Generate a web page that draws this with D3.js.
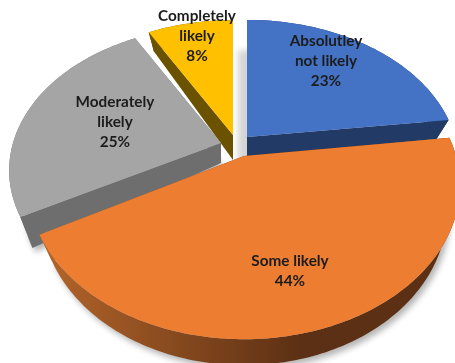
<!DOCTYPE html>
<html>
<head>
<meta charset="utf-8">
<script src="https://cdn.jsdelivr.net/npm/d3@7"></script>
<style>
  html, body { margin: 0; padding: 0; background: #fff; }
  text { font-family: Lato, "Open Sans", sans-serif; font-weight: 700; font-size: 15.3px; fill: #1c1c1c; }
</style>
</head>
<body>
<div id="chart"></div>
<script>
const categories = ['Absolutley not likely', 'Some likely', 'Moderately likely', 'Completely likely'];
const shares = [23, 44, 25, 8];
const labelLines = [['Absolutley', 'not likely'], ['Some likely'], ['Moderately', 'likely'], ['Completely', 'likely']];

const topColors = ['#4472c4', '#ed7d31', '#a5a5a5', '#ffc000'];
const wallColors = ['#223a66', 'url(#orangeWall)', '#6e6e6e', '#6b5200'];

// exploded slices: apex on screen, radius, tilt, wall depth at apex and rim
const sliceLayout = [
  { ax: 247, ay: 137, r: 208, k: 0.67, d0: 20, d1: 19, lx: 326, ly: 46 },
  { ax: 244, ay: 156, r: 212, k: 0.70, d0: 21, d1: 26, lx: 290, ly: 266 },
  { ax: 221, ay: 143, r: 208, k: 0.67, d0: 20, d1: 31, lx: 115, ly: 107 },
  { ax: 233, ay: 135, r: 204, k: 0.67, d0: 25, d1: 19, lx: 197, ly: 21 },
];

const PERSPECTIVE = 0.19;
const BOTTOM_SHRINK = 0.94;
const LINE_HEIGHT = 20;

const svg = d3.select('#chart').append('svg')
  .attr('width', 455)
  .attr('height', 363)
  .style('display', 'block');

const defs = svg.append('defs');
const grad = defs.append('linearGradient')
  .attr('id', 'orangeWall')
  .attr('gradientUnits', 'userSpaceOnUse')
  .attr('x1', 40).attr('x2', 300).attr('y1', 0).attr('y2', 0);
grad.append('stop').attr('offset', 0).attr('stop-color', '#b5652a');
grad.append('stop').attr('offset', 1).attr('stop-color', '#5c3014');

defs.append('filter').attr('id', 'soft')
  .attr('x', '-10%').attr('y', '-10%').attr('width', '120%').attr('height', '120%')
  .append('feGaussianBlur').attr('stdDeviation', 3);

const arcs = d3.pie().sort(null).startAngle(0).endAngle(2 * Math.PI)(shares);

function topPoint(s, angle, t) {
  const w = 1 + PERSPECTIVE * Math.cos(angle) * t;
  return [
    s.ax + Math.sin(angle) * t * s.r / w,
    s.ay - Math.cos(angle) * t * s.k * s.r / w,
  ];
}

function bottomPoint(s, angle, t) {
  const p = topPoint(s, angle, t);
  return [s.ax + (p[0] - s.ax) * BOTTOM_SHRINK, p[1] + s.d0 + (s.d1 - s.d0) * t];
}

const line = d3.line();

function rimAngles(a) {
  const n = Math.ceil((a.endAngle - a.startAngle) / 0.02);
  return d3.range(n + 1).map(i => a.startAngle + (a.endAngle - a.startAngle) * i / n);
}

function wedgePath(a, s, pointAt) {
  const apex = pointAt(s, a.startAngle, 0);
  return line([apex, ...rimAngles(a).map(g => pointAt(s, g, 1))]) + 'Z';
}

// the two cut faces and the rim band, each as its own closed shape
function wallPaths(a, s) {
  const rim = rimAngles(a);
  const cut = g => line([
    topPoint(s, g, 0), topPoint(s, g, 1), bottomPoint(s, g, 1), bottomPoint(s, g, 0),
  ]) + 'Z';
  const band = line([
    ...rim.map(g => topPoint(s, g, 1)),
    ...rim.slice().reverse().map(g => bottomPoint(s, g, 1)),
  ]) + 'Z';
  return [cut(a.startAngle), cut(a.endAngle), band];
}

// soft shadows under the slices
const shadows = svg.append('g').attr('filter', 'url(#soft)').attr('fill', '#000').attr('opacity', 0.3);
[1, 2].forEach(i => {
  shadows.append('path')
    .attr('transform', 'translate(3,4)')
    .attr('d', wedgePath(arcs[i], sliceLayout[i], bottomPoint));
});
// shade in the gap beside the blue slice
svg.append('path')
  .attr('filter', 'url(#soft)')
  .attr('fill', '#000')
  .attr('opacity', 0.17)
  .attr('d', wedgePath(arcs[0], sliceLayout[0], topPoint))
  .attr('transform', 'translate(-9,30)');

// painter's order: back slices first, the big front slice last
[3, 0, 2, 1].forEach(i => {
  const a = arcs[i];
  const s = sliceLayout[i];
  const g = svg.append('g');
  g.selectAll('path.wall')
    .data(wallPaths(a, s))
    .join('path')
    .attr('class', 'wall')
    .attr('fill', wallColors[i])
    .attr('d', d => d);
  g.append('path')
    .attr('fill', topColors[i])
    .attr('d', wedgePath(a, s, topPoint));
});

categories.forEach((c, i) => {
  const s = sliceLayout[i];
  const lines = [...labelLines[i], `${shares[i]}%`];
  const text = svg.append('text').attr('text-anchor', 'middle');
  lines.forEach((l, j) => {
    text.append('tspan')
      .attr('x', s.lx)
      .attr('y', s.ly + j * LINE_HEIGHT)
      .text(l);
  });
});
</script>
</body>
</html>
